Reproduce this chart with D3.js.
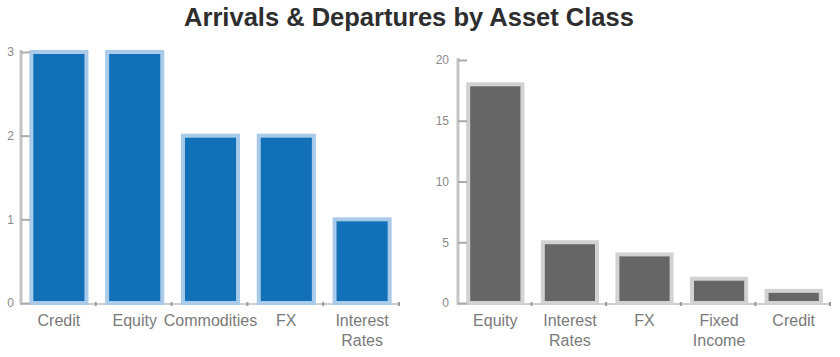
<!DOCTYPE html>
<html>
<head>
<meta charset="utf-8">
<script src="https://cdn.jsdelivr.net/npm/d3@7"></script>
<style>
  html, body { margin: 0; padding: 0; background: #fff; }
  svg { display: block; }
  text { font-family: "Liberation Sans", Arial, Helvetica, sans-serif; }
</style>
</head>
<body>
<svg id="chart" width="840" height="357"></svg>
<script>
const titleText = "Arrivals & Departures by Asset Class";

const leftCategories = ["Credit", "Equity", "Commodities", "FX", "Interest Rates"];
const leftValues = [3, 3, 2, 2, 1];
const leftTicks = [0, 1, 2, 3];

const rightCategories = ["Equity", "Interest Rates", "FX", "Fixed Income", "Credit"];
const rightValues = [18, 5, 4, 2, 1];
const rightTicks = [0, 5, 10, 15, 20];

const svg = d3.select("#chart");

svg.append("text")
  .attr("x", 409).attr("y", 26)
  .attr("text-anchor", "middle")
  .attr("font-size", 25.5).attr("font-weight", "bold")
  .attr("fill", "#2e2e2e")
  .text(titleText);

function wrap(sel, width, lineH) {
  sel.each(function() {
    const t = d3.select(this);
    const words = t.text().split(/\s+/);
    const x = t.attr("x");
    t.text(null);
    let line = [];
    let tspan = t.append("tspan").attr("x", x).attr("dy", 0);
    words.forEach(w => {
      line.push(w);
      tspan.text(line.join(" "));
      if (tspan.node().getComputedTextLength() > width && line.length > 1) {
        line.pop();
        tspan.text(line.join(" "));
        line = [w];
        tspan = t.append("tspan").attr("x", x).attr("dy", lineH).text(w);
      }
    });
  });
}

function panel(cfg) {
  const g = svg.append("g");
  const x = d3.scaleBand().domain(cfg.cats).range(cfg.xRange)
    .paddingInner(0.22).paddingOuter(0.11);
  const y = d3.scaleLinear().domain([0, cfg.max]).range(cfg.yRange);

  // x axis line + boundary ticks
  g.append("line")
    .attr("x1", cfg.xRange[0]).attr("x2", cfg.xRange[1])
    .attr("y1", y(0) + 1).attr("y2", y(0) + 1)
    .attr("stroke", "#cfcfcf").attr("stroke-width", 2);
  const bounds = cfg.cats.map((c, i) => cfg.xRange[0] + x.step() * (i + 1));
  g.selectAll(".xt").data(bounds).join("line")
    .attr("x1", d => d - 1).attr("x2", d => d - 1)
    .attr("y1", y(0) - 1).attr("y2", y(0) + 3)
    .attr("stroke", "#999").attr("stroke-width", 2);

  // bars
  g.selectAll(".bar").data(cfg.vals).join("rect")
    .attr("x", (d, i) => x(cfg.cats[i]) + 2)
    .attr("width", x.bandwidth() - 4)
    .attr("y", d => y(d))
    .attr("height", d => y(0) - y(d))
    .attr("fill", cfg.fill)
    .attr("stroke", cfg.stroke).attr("stroke-width", 4);

  // y axis
  const yAxis = d3.axisLeft(y).tickValues(cfg.ticks).tickFormat(d3.format("d"))
    .tickSizeInner(-9).tickSizeOuter(0).tickPadding(cfg.pad);
  const ya = g.append("g").attr("transform", `translate(${cfg.xRange[0]},0)`).call(yAxis);
  ya.select(".domain").attr("stroke", "#c4c4c4").attr("stroke-width", 3)
    .attr("d", `M0,${cfg.yRange[1] - 2}V${y(0) + 2}`);
  ya.selectAll(".tick line").attr("stroke", "#aaa").attr("stroke-width", 2);
  ya.selectAll(".tick text").attr("font-size", 12).attr("fill", "#8a8a8a")
    .attr("font-family", "Liberation Sans, Arial, sans-serif");

  // category labels
  g.selectAll(".cat").data(cfg.cats).join("text")
    .attr("x", d => x(d) + x.bandwidth() / 2)
    .attr("y", 326)
    .attr("text-anchor", "middle")
    .attr("font-size", 16).attr("fill", "#7a7a7a")
    .text(d => d)
    .call(wrap, 80, 20);
}

panel({cats: leftCategories, vals: leftValues, ticks: leftTicks, max: 3, pad: 7,
  xRange: [21, 400], yRange: [303, 52], fill: "#1170b8", stroke: "#a9cbe9"});
panel({cats: rightCategories, vals: rightValues, ticks: rightTicks, max: 20, pad: 9,
  xRange: [458, 831], yRange: [303, 60], fill: "#666666", stroke: "#d2d2d2"});
</script>
</body>
</html>
